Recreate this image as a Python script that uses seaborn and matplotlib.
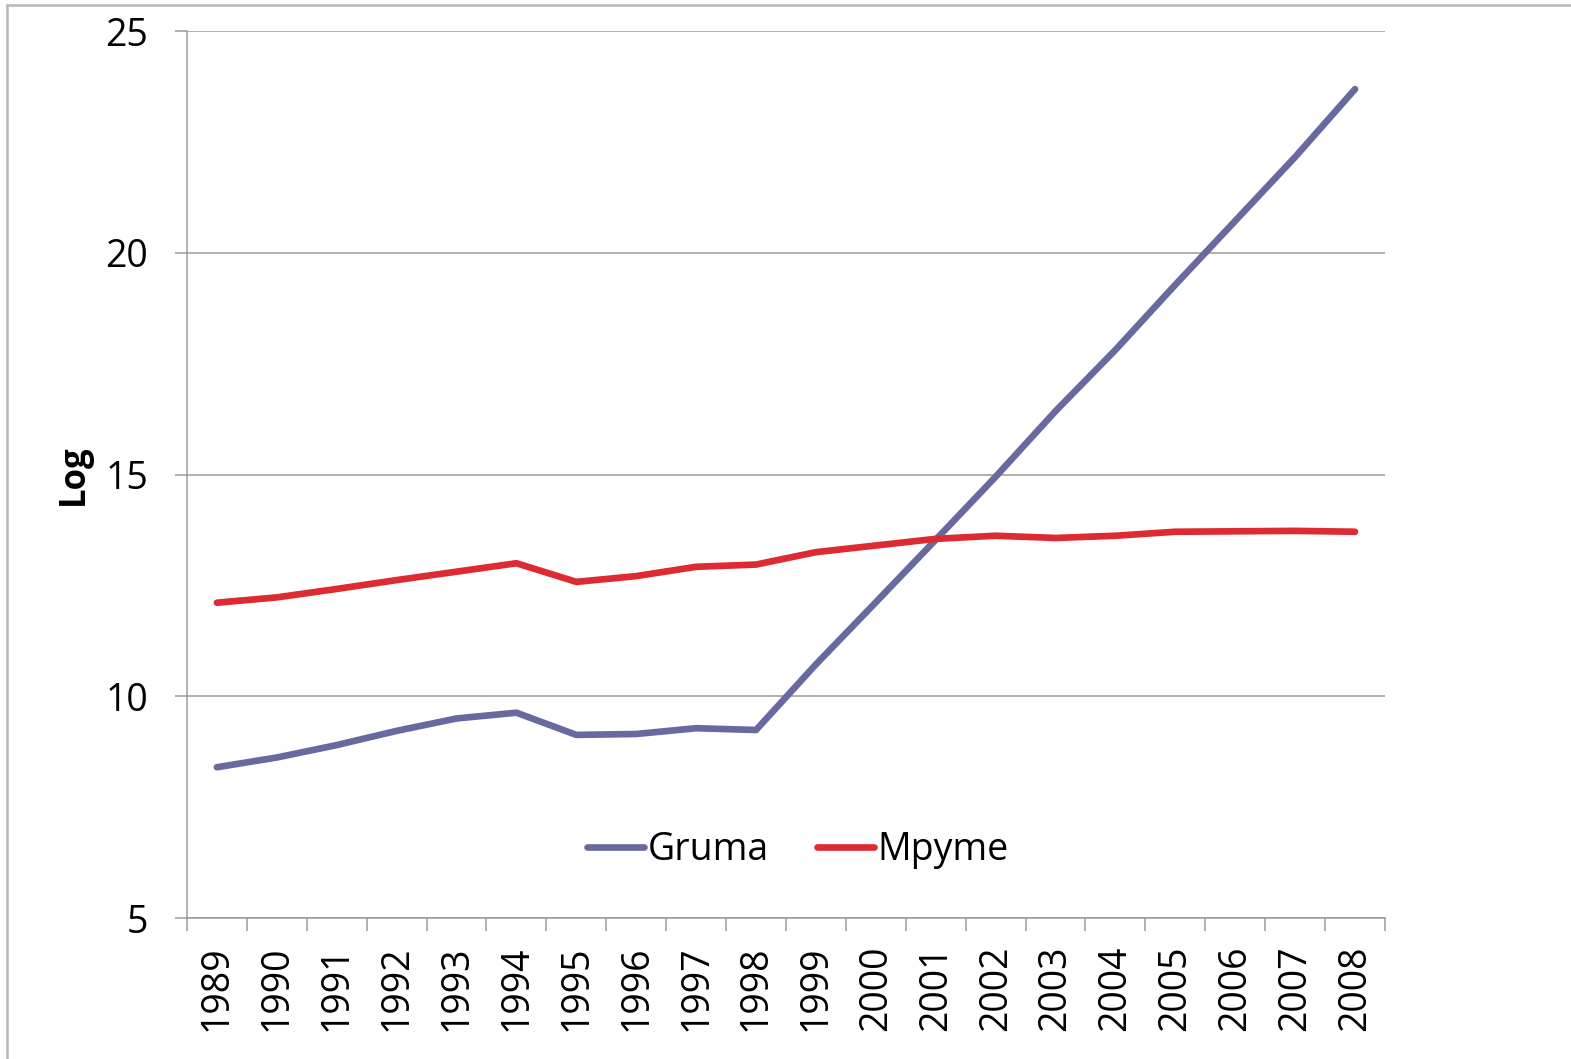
import numpy as np
import pandas as pd
import seaborn as sns
import matplotlib.pyplot as plt
from matplotlib.lines import Line2D

years = [str(y) for y in range(1989, 2009)]
gruma = [8.40, 8.62, 8.90, 9.22, 9.50, 9.63, 9.13, 9.15, 9.28, 9.24,
         10.72, 12.12, 13.53, 14.95, 16.43, 17.81, 19.28, 20.72, 22.16, 23.69]
mpyme = [12.11, 12.23, 12.42, 12.62, 12.81, 13.00, 12.58, 12.71, 12.92, 12.97,
         13.25, 13.40, 13.55, 13.62, 13.57, 13.62, 13.71, 13.72, 13.73, 13.71]
y_ticks = [5, 10, 15, 20, 25]

df = pd.DataFrame({'Year': years, 'Gruma': gruma, 'Mpyme': mpyme})
long_df = df.melt(id_vars='Year', var_name='Serie', value_name='Log')
long_df['pos'] = long_df['Year'].map({y: i for i, y in enumerate(years)})

sns.set_style('white')
plt.rcParams['font.family'] = ['Open Sans', 'DejaVu Sans']
plt.rcParams['text.color'] = 'black'
plt.rcParams['xtick.labelcolor'] = 'black'
plt.rcParams['ytick.labelcolor'] = 'black'
plt.rcParams['axes.labelcolor'] = 'black'

fig = plt.figure(figsize=(15.71, 10.59), dpi=100)
ax = fig.add_axes([0.119, 0.1331, 0.7626, 0.8376])

sns.lineplot(data=long_df, x='pos', y='Log', hue='Serie',
             palette={'Gruma': '#686a9f', 'Mpyme': '#de2a32'},
             linewidth=4.8, ax=ax, legend=False, sort=False)
for line in ax.get_lines():
    line.set_solid_capstyle('round')
    line.set_solid_joinstyle('round')

ax.set_xlim(-0.5, len(years) - 0.5)
ax.set_ylim(5, 25)
ax.set_yticks(y_ticks)
ax.set_yticklabels([str(t) for t in y_ticks], fontsize=27)
ax.yaxis.grid(True, color='#9a9a9a', linewidth=1.1)
ax.set_axisbelow(True)

# category labels at band centers, tick marks at band edges
ax.set_xticks(np.arange(len(years)))
ax.set_xticklabels(years, rotation=90, fontsize=27)
ax.set_xticks(np.arange(len(years) + 1) - 0.5, minor=True)
ax.tick_params(axis='x', which='major', length=0, pad=20)
ax.tick_params(axis='x', which='minor', length=9, width=1.1, color='#9a9a9a', bottom=True)
ax.tick_params(axis='y', length=9, width=1.1, color='#9a9a9a', left=True, pad=19)

for s in ['top', 'right']:
    ax.spines[s].set_visible(False)
for s in ['left', 'bottom']:
    ax.spines[s].set_color('#9a9a9a')
    ax.spines[s].set_linewidth(1.1)

ax.set_xlabel('')
ax.set_ylabel('Log', fontsize=25, fontweight='bold', labelpad=10)

handles = [Line2D([], [], color='#686a9f', linewidth=4.8, solid_capstyle='round'),
           Line2D([], [], color='#de2a32', linewidth=4.8, solid_capstyle='round')]
ax.legend(handles, ['Gruma', 'Mpyme'], loc='center', bbox_to_anchor=(0.51, 0.077),
          ncol=2, frameon=False, fontsize=27, handlelength=1.5,
          handletextpad=0.1, columnspacing=1.3)

# outer chart border (top and left only visible)
fig.add_artist(Line2D([0.0045, 1.0], [0.9953, 0.9953], color='#b8b8b8', linewidth=1.8))
fig.add_artist(Line2D([0.0045, 0.0045], [0.0, 0.9953], color='#b8b8b8', linewidth=1.8))

fig.savefig('out.png', dpi=100)
